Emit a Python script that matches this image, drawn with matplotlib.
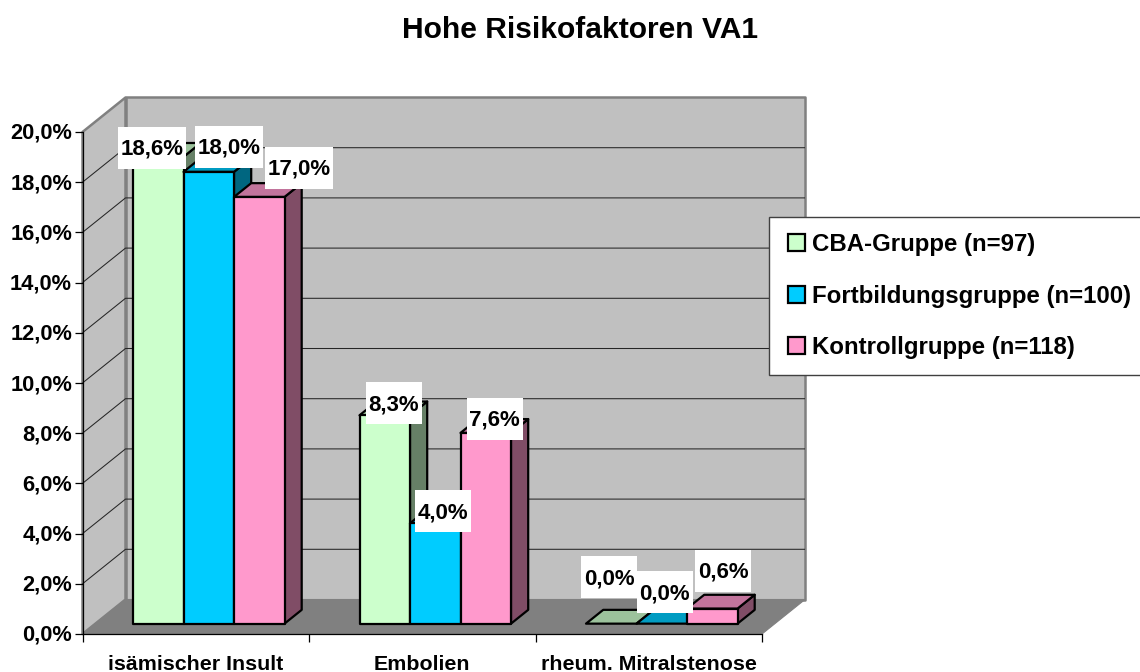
import matplotlib
matplotlib.use("Agg")
import matplotlib.pyplot as plt
from matplotlib.patches import Polygon, Rectangle, Patch
from matplotlib.transforms import IdentityTransform, Affine2D

plt.rcParams['font.family'] = ['Liberation Sans', 'DejaVu Sans']
plt.rcParams['font.weight'] = 'bold'

# data
categories = ['isämischer Insult', 'Embolien', 'rheum. Mitralstenose']
series_names = ['CBA-Gruppe (n=97)', 'Fortbildungsgruppe (n=100)', 'Kontrollgruppe (n=118)']
cba = [18.6, 8.3, 0.0]
fort = [18.0, 4.0, 0.0]
kontroll = [17.0, 7.6, 0.6]
y_ticks = [0, 2, 4, 6, 8, 10, 12, 14, 16, 18, 20]
y_tick_labels = ['0,0%', '2,0%', '4,0%', '6,0%', '8,0%', '10,0%', '12,0%', '14,0%', '16,0%', '18,0%', '20,0%']

# styles
front_cols = ['#CCFFCC', '#00CCFF', '#FF99CC']
top_cols = ['#9CC29C', '#009CC2', '#C2749C']
side_cols = ['#668066', '#006680', '#804D66']

W, H = 1140, 672
X0, X1, Y0, Y20 = 82.5, 762.0, 634.0, 132.0
DX, DY = 43.0, 34.5           # depth offset of the chart box, px
BAR_W = 50.5 / ((X1 - X0) / 3)  # one bar width in category units
BAR_D0, BAR_D1 = 0.30, 0.70   # bar depth range
PAD = (133.0 - BAR_D0 * DX - X0) / ((X1 - X0) / 3)

fig = plt.figure(figsize=(W / 100, H / 100), dpi=100, facecolor='white')
ax = fig.add_axes([X0 / W, 1 - Y0 / H, (X1 - X0) / W, (Y0 - Y20) / H])
ax.set_xlim(0, 3)
ax.set_ylim(0, 20)
ax.patch.set_visible(False)

kx = 3 / (X1 - X0)
ky = 20 / (Y0 - Y20)


def proj(x, y, d):
    return (x + d * DX * kx, y + d * DY * ky)


def poly(pts, fc, ec, lw, z):
    ax.add_patch(Polygon([proj(*p) for p in pts], closed=True, facecolor=fc, edgecolor=ec,
                         linewidth=lw, joinstyle='round', clip_on=False, zorder=z))


# walls and floor
poly([(0, 0, 1), (3, 0, 1), (3, 20, 1), (0, 20, 1)], '#C0C0C0', '#808080', 1.8, 1)
poly([(0, 0, 0), (0, 0, 1), (0, 20, 1), (0, 20, 0)], '#C0C0C0', '#808080', 1.8, 1)
poly([(0, 0, 0), (3, 0, 0), (3, 0, 1), (0, 0, 1)], '#808080', '#808080', 0.8, 1.1)
for t in y_ticks[1:-1]:
    px = [proj(0, t, 0), proj(0, t, 1), proj(3, t, 1)]
    ax.plot([p[0] for p in px], [p[1] for p in px], color='#262626', lw=0.75,
            clip_on=False, zorder=1.2, solid_capstyle='butt')

# bars
z = 2.0
all_series = [cba, fort, kontroll]
for i, cat in enumerate(categories):
    for s, vals in enumerate(all_series):
        v = vals[i]
        a = i + PAD + s * BAR_W
        b = a + BAR_W
        poly([(b, 0, BAR_D0), (b, 0, BAR_D1), (b, v, BAR_D1), (b, v, BAR_D0)], side_cols[s], 'black', 1.6, z)
        poly([(a, v, BAR_D0), (b, v, BAR_D0), (b, v, BAR_D1), (a, v, BAR_D1)], top_cols[s], 'black', 1.6, z + 0.01)
        if v > 0:
            poly([(a, 0, BAR_D0), (b, 0, BAR_D0), (b, v, BAR_D0), (a, v, BAR_D0)], front_cols[s], 'black', 1.6, z + 0.02)
        z += 0.03

# axes
for sp in ('top', 'right'):
    ax.spines[sp].set_visible(False)
for sp in ('left', 'bottom'):
    ax.spines[sp].set_color('black')
    ax.spines[sp].set_linewidth(0.9)
    ax.spines[sp].set_zorder(3)
ax.set_yticks(y_ticks)
ax.set_yticklabels(y_tick_labels, fontsize=15.75, fontweight='bold')
ax.tick_params(axis='y', length=6, width=0.9, pad=1.5)
for lbl in ax.get_yticklabels():
    lbl.set_transform(lbl.get_transform() + Affine2D().translate(0, 1))
ax.set_xticks([0, 1, 2, 3])
ax.set_xticklabels([])
ax.tick_params(axis='x', which='major', length=6, width=0.9)
ax.set_xticks([0.5, 1.5, 2.5], minor=True)
ax.set_xticklabels(categories, minor=True, fontsize=15.4, fontweight='bold')
ax.tick_params(axis='x', which='minor', length=0, pad=15)

# data labels: offset of label centre from bar-top centre (px), box size (px)
offsets = [[(-6, 9), (20.5, 25), (40, 29)],
           [(9, 12), (8, 12), (9, 14)],
           [(-2, 46.5), (3, 31.5), (11, 38)]]
labels_fmt = lambda v: f'{v:.1f}'.replace('.', ',') + '%'
fig.canvas.draw()
for i in range(3):
    for s, vals in enumerate(all_series):
        v = vals[i]
        xc = i + PAD + (s + 0.5) * BAR_W
        px, py = ax.transData.transform(proj(xc, v, BAR_D0))
        cx, cy = px + offsets[i][s][0], py + offsets[i][s][1]
        txt = labels_fmt(v)
        w = 68 if v >= 10 else 56
        ax.add_patch(Rectangle((cx - w / 2, cy - 21), w, 42, transform=IdentityTransform(),
                               facecolor='white', edgecolor='none', clip_on=False, zorder=5))
        ax.text(cx, cy + 1, txt, transform=IdentityTransform(), ha='center', va='center_baseline',
                fontsize=16, fontweight='bold', color='black', zorder=6, clip_on=False)

# legend: background box runs off the right edge of the figure
ax.add_patch(Rectangle((769, H - 375), 380, 158, transform=IdentityTransform(),
                       facecolor='white', edgecolor='#404040', linewidth=1.0, zorder=6.5, clip_on=False))
handles = [Patch(facecolor=c, edgecolor='black', linewidth=1.6) for c in front_cols]
leg = ax.legend(handles, series_names, loc='upper left', bbox_to_anchor=(788 / W, 1 - 233 / H),
                bbox_transform=fig.transFigure, frameon=False, borderaxespad=0, borderpad=0,
                handlelength=0.71, handleheight=0.71, handletextpad=0.29, labelspacing=1.19,
                prop={'weight': 'bold', 'size': 17.25})
leg.set_zorder(7)

ax.set_title('Hohe Risikofaktoren VA1', x=(580.5 - X0) / (X1 - X0), y=(Y0 - 38.5) / (Y0 - Y20),
             pad=0, fontsize=21.6, fontweight='bold')

fig.savefig('out.png', dpi=100, facecolor='white')
